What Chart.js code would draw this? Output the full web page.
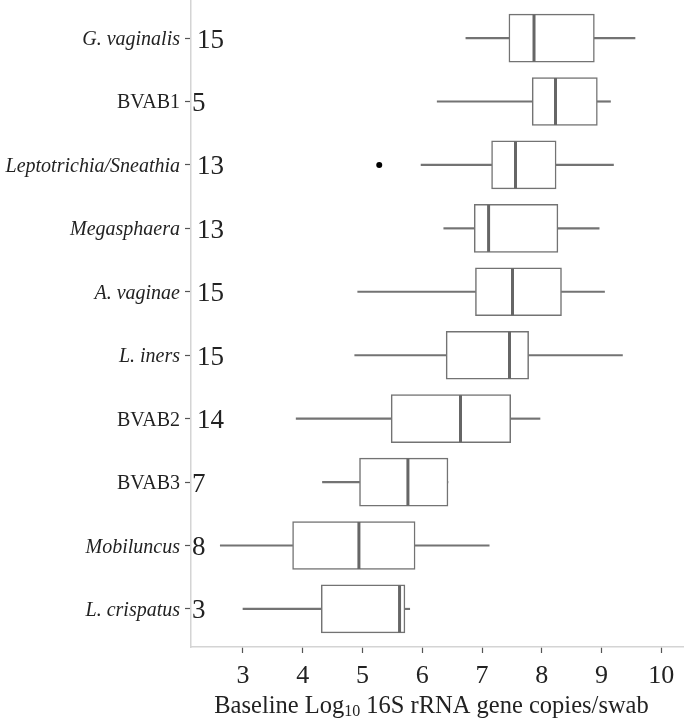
<!DOCTYPE html>
<html>
<head>
    <title>Baseline 16S rRNA gene copies</title>
    <style>
        body { margin: 0; background: #fff; }
        canvas { display: block; }
    </style>
</head>
<body>
    <canvas id="boxes" width="684" height="720"></canvas>
    <script src="https://cdn.jsdelivr.net/npm/chart.js"></script>
    <script>
        // categories, top to bottom
        const species = ['G. vaginalis', 'BVAB1', 'Leptotrichia/Sneathia', 'Megasphaera', 'A. vaginae',
                         'L. iners', 'BVAB2', 'BVAB3', 'Mobiluncus', 'L. crispatus'];
        const italicName = [true, false, true, true, true, true, false, false, true, true];
        const counts = [15, 5, 13, 13, 15, 15, 14, 7, 8, 3];

        // box plot stats (log10 copies/swab)
        const whiskerLow  = [6.73, 6.25, 5.98, 6.36, 4.92, 4.87, 3.89, 4.33, 2.62, 3.00];
        const q1          = [7.45, 7.84, 7.16, 6.87, 6.89, 6.40, 5.48, 4.95, 3.83, 4.31];
        const median      = [7.87, 8.23, 7.56, 7.11, 7.51, 7.46, 6.64, 5.76, 4.94, 5.62];
        const q3          = [8.88, 8.93, 8.24, 8.27, 8.33, 7.78, 7.48, 6.43, 5.88, 5.71];
        const whiskerHigh = [9.56, 9.15, 9.20, 8.96, 9.05, 9.35, 7.97, 6.43, 7.12, 5.79];
        const outlierCat = [2];
        const outlierValue = [5.28];

        const xTicks = [3, 4, 5, 6, 7, 8, 9, 10];

        const boxColor = '#737373';
        const serif = "'Liberation Serif', 'DejaVu Serif', serif";

        const labelPlugin = {
            id: 'labels',
            afterDraw(chart) {
                const ctx = chart.ctx;
                const yScale = chart.scales.y;
                ctx.save();
                ctx.fillStyle = '#222';
                species.forEach((name, i) => {
                    const y = yScale.getPixelForValue(i);
                    ctx.font = (italicName[i] ? 'italic ' : '') + '20px ' + serif;
                    ctx.textAlign = 'right';
                    ctx.textBaseline = 'alphabetic';
                    ctx.fillText(name, 180, y + 7);
                    ctx.font = '27px ' + serif;
                    ctx.textAlign = 'left';
                    const nx = counts[i] >= 10 ? 197 : 192;
                    ctx.fillText(String(counts[i]), nx, y + 9.5);
                });

                // x axis title with subscript
                const parts = ['Baseline Log', '10', ' 16S rRNA gene copies/swab'];
                const big = '24.5px ' + serif, small = '16px ' + serif;
                ctx.font = big;
                const w0 = ctx.measureText(parts[0]).width;
                const w2 = ctx.measureText(parts[2]).width;
                ctx.font = small;
                const w1 = ctx.measureText(parts[1]).width;
                const area = chart.chartArea;
                let x = (area.left + area.right) / 2 - (w0 + w1 + w2) / 2 - 6;
                const base = 713;
                ctx.textAlign = 'left';
                ctx.font = big;
                ctx.fillText(parts[0], x, base);
                x += w0;
                ctx.font = small;
                ctx.fillText(parts[1], x, base + 3);
                x += w1;
                ctx.font = big;
                ctx.fillText(parts[2], x, base);
                ctx.restore();
            }
        };

        const ctx = document.getElementById('boxes').getContext('2d');
        new Chart(ctx, {
            data: {
                datasets: [
                    {
                        type: 'scatter',
                        label: 'median',
                        order: 0,
                        data: median.map((v, i) => ({ x: v, y: i })),
                        pointStyle: 'line',
                        rotation: 90,
                        radius: 23.5,
                        hoverRadius: 23.5,
                        borderWidth: 3,
                        borderColor: '#666',
                        backgroundColor: '#666'
                    },
                    {
                        type: 'scatter',
                        label: 'outliers',
                        order: 0,
                        data: outlierValue.map((v, i) => ({ x: v, y: outlierCat[i] })),
                        pointStyle: 'circle',
                        radius: 3,
                        borderWidth: 0,
                        backgroundColor: '#000'
                    },
                    {
                        type: 'bar',
                        label: 'box',
                        order: 1,
                        indexAxis: 'y',
                        grouped: false,
                        data: q1.map((v, i) => ({ x: [v, q3[i]], y: i })),
                        barThickness: 48,
                        backgroundColor: '#fff',
                        borderColor: boxColor,
                        borderWidth: 1.5,
                        borderSkipped: false
                    },
                    {
                        type: 'bar',
                        label: 'lower whisker',
                        order: 2,
                        indexAxis: 'y',
                        grouped: false,
                        data: whiskerLow.map((v, i) => ({ x: [v, q1[i]], y: i })),
                        barThickness: 1.5,
                        backgroundColor: boxColor,
                        borderWidth: 0
                    },
                    {
                        type: 'bar',
                        label: 'upper whisker',
                        order: 2,
                        indexAxis: 'y',
                        grouped: false,
                        data: q3.map((v, i) => ({ x: [v, whiskerHigh[i]], y: i })),
                        barThickness: 1.5,
                        backgroundColor: boxColor,
                        borderWidth: 0
                    }
                ]
            },
            options: {
                responsive: false,
                animation: false,
                layout: { padding: 0, autoPadding: false },
                plugins: {
                    legend: { display: false },
                    tooltip: { enabled: false }
                },
                scales: {
                    x: {
                        type: 'linear',
                        offset: false,
                        beginAtZero: false,
                        min: 2.13,
                        max: 10.38,
                        afterBuildTicks: scale => {
                            scale.ticks = xTicks.map(v => ({ value: v }));
                        },
                        afterFit: scale => { scale.height = 73; },
                        border: { display: true, color: '#d4d4d4', width: 1.5 },
                        grid: {
                            offset: false,
                            drawOnChartArea: false,
                            drawTicks: true,
                            tickLength: 6,
                            tickColor: '#555',
                            tickWidth: 1.2
                        },
                        ticks: {
                            color: '#222',
                            padding: 8,
                            font: { family: serif, size: 26 },
                            maxRotation: 0
                        }
                    },
                    y: {
                        type: 'linear',
                        offset: false,
                        reverse: true,
                        min: -0.6,
                        max: 9.6,
                        afterBuildTicks: scale => {
                            scale.ticks = species.map((_, i) => ({ value: i }));
                        },
                        afterFit: scale => { scale.width = 191; },
                        border: { display: true, color: '#d4d4d4', width: 1.5 },
                        grid: {
                            offset: false,
                            drawOnChartArea: false,
                            drawTicks: true,
                            tickLength: 6,
                            tickColor: '#555',
                            tickWidth: 1.2
                        },
                        ticks: { display: false }
                    }
                }
            },
            plugins: [labelPlugin]
        });
    </script>
</body>
</html>
